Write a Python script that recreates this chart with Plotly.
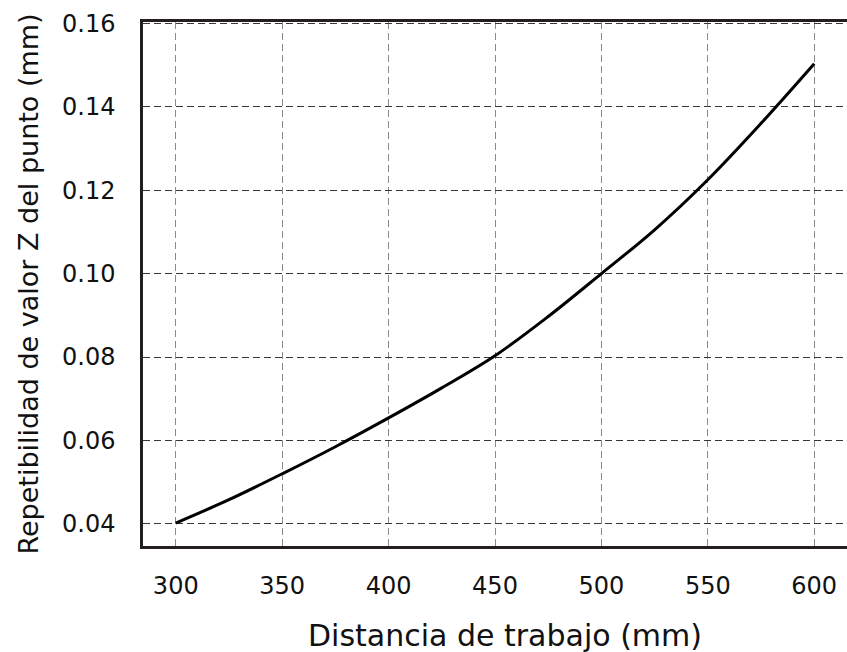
"""Working distance vs. Z repeatability curve."""

import plotly.graph_objects as go

# distance (mm) and repeatability (mm)
distance = [300, 325, 350, 375, 400, 425, 450, 475, 500, 525, 550, 575, 600]
repeatability = [0.0402, 0.0458, 0.0520, 0.0585, 0.0654, 0.0726, 0.0803,
                 0.0897, 0.1000, 0.1105, 0.1225, 0.1360, 0.1503]

x_ticks = [300, 350, 400, 450, 500, 550, 600]
y_ticks = [0.04, 0.06, 0.08, 0.10, 0.12, 0.14, 0.16]

FONT = "DejaVu Sans"
BORDER = "#231f20"

fig = go.Figure()

fig.add_trace(
    go.Scatter(
        x=distance,
        y=repeatability,
        mode="lines",
        line=dict(color="#000000", width=3, shape="spline", smoothing=1.0),
        showlegend=False,
    )
)

fig.update_layout(
    width=847,
    height=652,
    margin=dict(l=143, r=0, t=22, b=106),
    paper_bgcolor="white",
    plot_bgcolor="white",
    font=dict(family=FONT, color="#111111"),
)

# x title as an annotation: in the source it sits a little right of centre
fig.add_annotation(
    text="Distancia de trabajo (mm)",
    xref="paper", yref="paper",
    x=0.514, y=0, yanchor="middle",
    yshift=-89,
    showarrow=False,
    font=dict(size=30, family=FONT, color="#111111"),
)

fig.update_xaxes(
    range=[284.6, 615.4],
    tickvals=x_ticks,
    ticktext=[str(v) for v in x_ticks],
    tickfont=dict(size=24, family=FONT),
    ticks="",
    ticklabelstandoff=16,
    automargin=False,
    showgrid=True,
    gridcolor="#8a8a8a",
    gridwidth=1,
    griddash="7px,4px",
    showline=True,
    linecolor=BORDER,
    linewidth=2.5,
    mirror=True,
    zeroline=False,
)

fig.update_yaxes(
    range=[0.0347, 0.1603],
    tickvals=y_ticks,
    ticktext=[f"{v:.2f}" for v in y_ticks],
    tickfont=dict(size=24, family=FONT),
    ticks="",
    ticklabelstandoff=20,
    automargin=False,
    showgrid=True,
    gridcolor="#3a3536",
    gridwidth=1,
    griddash="7px,4px",
    showline=True,
    linecolor=BORDER,
    linewidth=2.5,
    mirror=False,
    zeroline=False,
    title=dict(text="Repetibilidad de valor Z del punto (mm)",
               font=dict(size=27, family=FONT), standoff=16),
)

# drop the default page margin so the figure sits at the window's corner
fig.write_html(
    "out.html",
    config={"displayModeBar": False},
    post_script="document.body.style.margin = '0';",
)
